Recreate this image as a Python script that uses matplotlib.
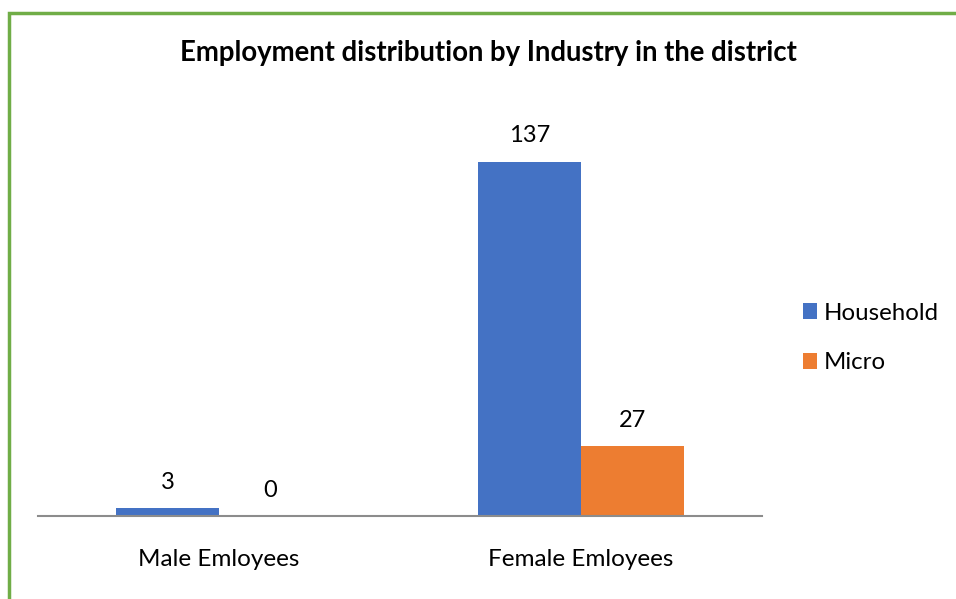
import matplotlib.pyplot as plt
import numpy as np
from matplotlib.patches import Rectangle

plt.rcParams['font.family'] = ['Lato', 'DejaVu Sans']

categories = ["Male Emloyees", "Female Emloyees"]
household = [3, 137]
micro = [0, 27]
series_names = ["Household", "Micro"]

blue = "#4472C4"
orange = "#ED7D31"

fig = plt.figure(figsize=(9.56, 5.99), dpi=100)
ax = fig.add_axes([38 / 956, 1 - 516 / 599, 724 / 956, 414 / 599])

x = np.arange(len(categories))
w = 0.285
b1 = ax.bar(x - w / 2, household, w, color=blue, label=series_names[0])
b2 = ax.bar(x + w / 2, micro, w, color=orange, label=series_names[1])

for bars, vals in ((b1, household), (b2, micro)):
    for rect, v in zip(bars, vals):
        ax.annotate(str(v), (rect.get_x() + rect.get_width() / 2, v),
                    xytext=(0, 11), textcoords="offset points",
                    ha="center", va="bottom", fontsize=17)

ax.set_xlim(-0.5, 1.5)
ax.set_ylim(0, 160)
ax.set_xticks(x)
ax.set_xticklabels(categories, fontsize=17.5)
ax.tick_params(axis="x", length=0, pad=24)
ax.set_yticks([])
for s in ["top", "right", "left"]:
    ax.spines[s].set_visible(False)
ax.spines["bottom"].set_color("#8C8C8C")
ax.spines["bottom"].set_linewidth(1.5)

fig.text(488 / 956, 1 - 53 / 599, "Employment distribution by Industry in the district",
         ha="center", va="center", fontsize=19.8, fontweight="bold")

fig.legend(handles=[b1, b2], loc="center left", bbox_to_anchor=(803 / 956, 1 - 338 / 599),
           frameon=False, fontsize=17.3, handlelength=0.6, handleheight=0.6,
           handletextpad=0.25, labelspacing=1.2, borderpad=0, borderaxespad=0)

# green frame around the chart area
fig.patches.append(Rectangle((9 / 956, -0.1), 2, 1 - 13 / 599 + 0.1, transform=fig.transFigure,
                             fill=False, edgecolor="#70AD47", linewidth=2.5))

fig.savefig("out.png", dpi=100)
